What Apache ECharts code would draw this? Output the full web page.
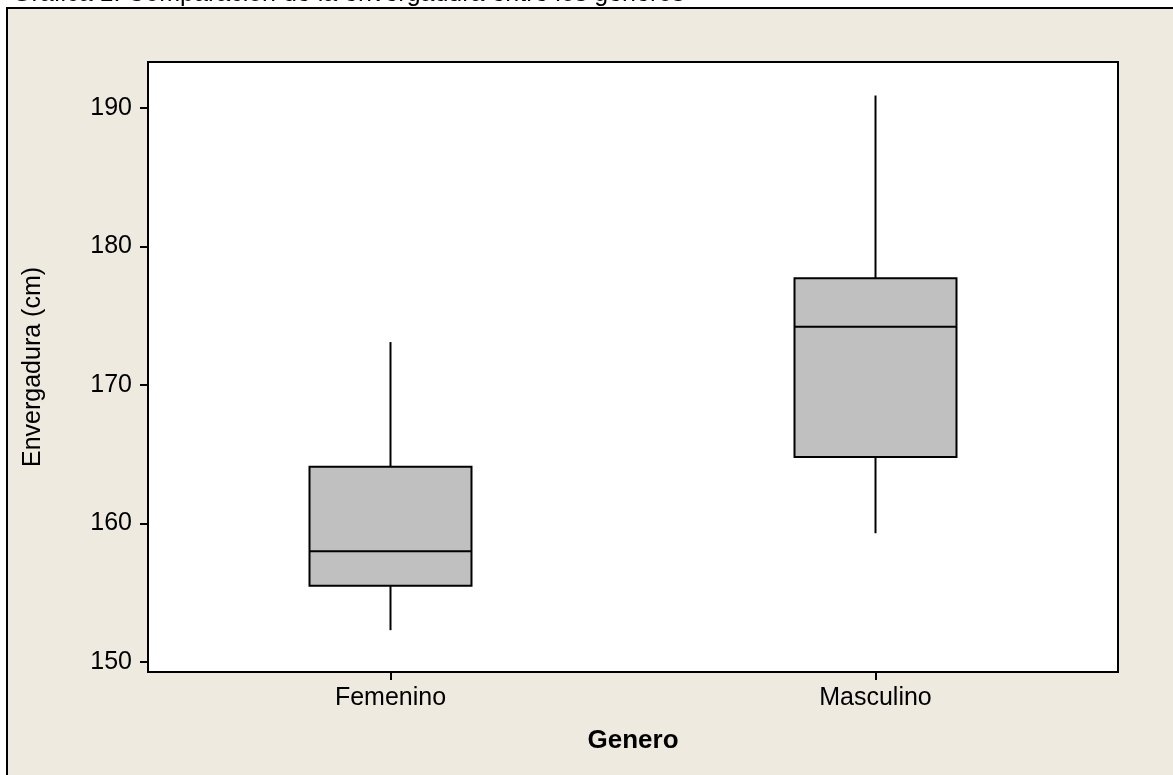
<!DOCTYPE html>
<html>
<head>
<meta charset="utf-8">
<script src="https://cdn.jsdelivr.net/npm/echarts@6/dist/echarts.min.js"></script>
<style>
html,body{margin:0;padding:0;background:#fff;}
#c{width:1173px;height:775px;}
</style>
</head>
<body>
<div id="c"></div>
<script>
const titleText = 'Gráfica 1: Comparación de la envergadura entre los géneros';
const categories = ['Femenino', 'Masculino'];
const minVals = [152.3, 159.3];
const q1Vals = [155.5, 164.8];
const medianVals = [158.0, 174.2];
const q3Vals = [164.1, 177.7];
const maxVals = [173.1, 190.9];
const yTicks = [150, 160, 170, 180, 190];
const yMin = 149.28, yMax = 193.32;

const FONT = 'Liberation Sans';
const data = categories.map((c, i) => [i, minVals[i], q1Vals[i], medianVals[i], q3Vals[i], maxVals[i]]);

const chart = echarts.init(document.getElementById('c'), null, {renderer: 'canvas'});
chart.setOption({
  backgroundColor: '#ffffff',
  animation: false,
  graphic: [
    {type: 'rect', z: -10, shape: {x: 7, y: 8, width: 1200, height: 800},
     style: {fill: '#EEEAE0', stroke: '#000', lineWidth: 2}},
    {type: 'text', z: 10, style: {text: titleText, x: 12, y: 6.5, fill: '#000',
     font: '25px "' + FONT + '"', verticalAlign: 'bottom'}}
  ],
  grid: {left: 148, right: 55, top: 62, bottom: 103, show: true,
         backgroundColor: '#ffffff', borderColor: '#000', borderWidth: 2},
  xAxis: {
    type: 'category', data: categories, boundaryGap: true,
    name: 'Genero', nameLocation: 'middle', nameGap: 56,
    nameTextStyle: {fontFamily: FONT, fontSize: 26, fontWeight: 'bold', color: '#000'},
    axisLine: {show: true, lineStyle: {color: '#000', width: 2}},
    axisTick: {show: true, alignWithLabel: true, length: 8, lineStyle: {color: '#000', width: 2}},
    axisLabel: {fontFamily: FONT, fontSize: 25, color: '#000', margin: 14},
    splitLine: {show: false}
  },
  yAxis: {
    type: 'value', min: yMin, max: yMax,
    name: 'Envergadura (cm)', nameLocation: 'middle', nameGap: 102, nameRotate: 90,
    nameTextStyle: {fontFamily: FONT, fontSize: 25, color: '#000'},
    axisLine: {show: true, lineStyle: {color: '#000', width: 2}},
    axisTick: {show: true, length: 8, customValues: yTicks, lineStyle: {color: '#000', width: 2}},
    axisLabel: {fontFamily: FONT, fontSize: 25, color: '#000', margin: 16, customValues: yTicks},
    splitLine: {show: false}
  },
  series: [{
    type: 'custom',
    data: data,
    encode: {x: 0, y: [1, 2, 3, 4, 5]},
    renderItem: function (params, api) {
      const x = api.value(0);
      const pMin = api.coord([x, api.value(1)]);
      const pQ1 = api.coord([x, api.value(2)]);
      const pMed = api.coord([x, api.value(3)]);
      const pQ3 = api.coord([x, api.value(4)]);
      const pMax = api.coord([x, api.value(5)]);
      const bw = api.size([1, 0])[0] * 0.334;
      const cx = pQ1[0];
      const ls = {stroke: '#000', lineWidth: 2, fill: null};
      return {
        type: 'group',
        children: [
          {type: 'line', shape: {x1: cx, y1: pMax[1], x2: cx, y2: pQ3[1]}, style: ls},
          {type: 'line', shape: {x1: cx, y1: pQ1[1], x2: cx, y2: pMin[1]}, style: ls},
          {type: 'rect', shape: {x: cx - bw / 2, y: pQ3[1], width: bw, height: pQ1[1] - pQ3[1]},
           style: {fill: '#C0C0C0', stroke: '#000', lineWidth: 2}},
          {type: 'line', shape: {x1: cx - bw / 2, y1: pMed[1], x2: cx + bw / 2, y2: pMed[1]}, style: ls}
        ]
      };
    }
  }]
});
</script>
</body>
</html>
